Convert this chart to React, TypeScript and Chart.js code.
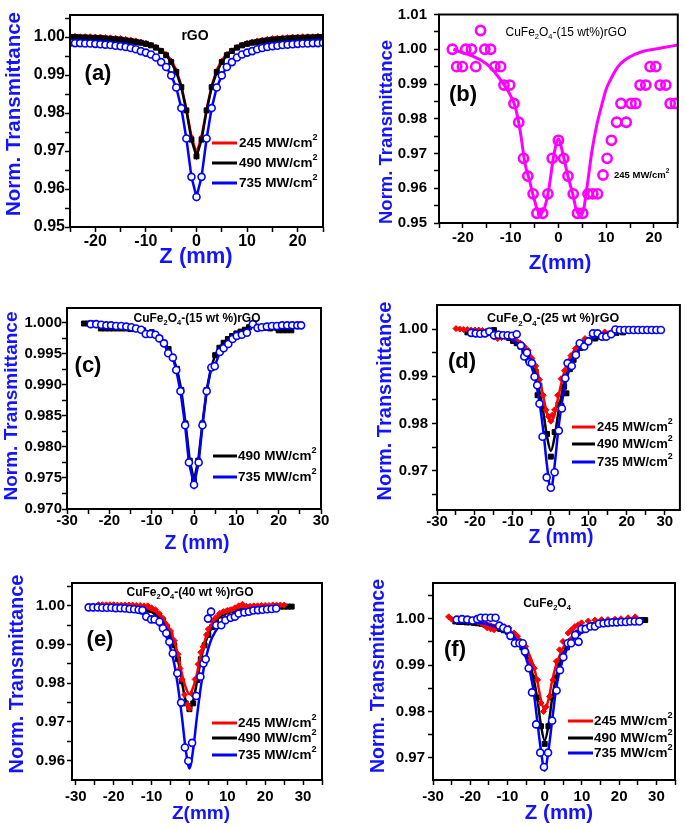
import React, { useEffect, useRef } from 'react';
import { Chart, registerables } from 'chart.js';
Chart.register(...registerables);

const FONT = '"Liberation Sans", Arial, Helvetica, sans-serif';
const RED = '#ff0000';
const BLACK = '#000000';
const BLUE = '#0000ff';
const MAGENTA = '#ff00ff';
const TITLE_BLUE = '#1414ff';

const Y_TITLE = 'Norm. Transmittance';
const L245 = '245 MW/cm';
const L490 = '490 MW/cm';
const L735 = '735 MW/cm';

// ---------- (a) rGO ----------
const A_Z = [-25,-24,-23,-22,-21,-20,-19,-18,-17,-16,-15,-14,-13,-12,-11,-10,-9,-8,-7,-6,-5,-4,-3,-2,-1,0,1,2,3,4,5,6,7,8,9,10,11,12,13,14,15,16,17,18,19,20,21,22,23,24,25];
const A_245 = [1.0004,1.0004,1.0003,1.0003,1.0003,1.0002,1.0002,1.0001,1.0000,0.9999,0.9998,0.9996,0.9994,0.9992,0.9989,0.9986,0.9981,0.9975,0.9966,0.9956,0.9939,0.9913,0.9872,0.9810,0.9738,0.9694,0.9738,0.9810,0.9872,0.9913,0.9939,0.9956,0.9966,0.9975,0.9981,0.9986,0.9989,0.9992,0.9994,0.9996,0.9998,0.9999,1.0000,1.0001,1.0002,1.0002,1.0003,1.0003,1.0003,1.0004,1.0004];
const A_490 = [1.0000,1.0000,0.9999,0.9999,0.9998,0.9998,0.9997,0.9996,0.9995,0.9994,0.9993,0.9991,0.9989,0.9987,0.9985,0.9982,0.9978,0.9972,0.9963,0.9952,0.9934,0.9908,0.9868,0.9807,0.9730,0.9686,0.9730,0.9807,0.9868,0.9908,0.9934,0.9952,0.9963,0.9972,0.9978,0.9982,0.9985,0.9987,0.9989,0.9991,0.9993,0.9994,0.9995,0.9996,0.9997,0.9998,0.9998,0.9999,0.9999,1.0000,1.0000];
const A_735 = [0.9985,0.9984,0.9984,0.9983,0.9983,0.9982,0.9981,0.9980,0.9979,0.9977,0.9976,0.9974,0.9971,0.9968,0.9963,0.9959,0.9954,0.9946,0.9934,0.9921,0.9899,0.9867,0.9813,0.9733,0.9632,0.9579,0.9632,0.9733,0.9813,0.9867,0.9899,0.9921,0.9934,0.9946,0.9954,0.9959,0.9963,0.9968,0.9971,0.9974,0.9976,0.9977,0.9979,0.9980,0.9981,0.9982,0.9983,0.9983,0.9984,0.9984,0.9985];
const A_X_MAJOR = [-20,-10,0,10,20];
const A_X_MINOR = [-25,-15,-5,5,15,25];
const A_Y_MAJOR = [0.95,0.96,0.97,0.98,0.99,1.00];
const A_Y_MINOR = [0.955,0.965,0.975,0.985,0.995,1.005];

// ---------- (b) CuFe2O4-(15 wt%)GO ----------
const B_PTS_Z = [-22.2,-21.3,-20.1,-19.4,-18.2,-17.3,-16.3,-15.4,-14.2,-13.3,-12.1,-11.4,-10.2,-9.3,-8.3,-7.3,-6.4,-5.3,-4.5,-3.3,-2.2,-1.3,0,1.1,2.0,3.1,4.0,5.1,6.2,7.2,8.2,10.2,11.1,12.2,13.1,14.2,15.2,16.2,17.1,18.3,19.2,20.4,21.3,22.5,23.4,24.5];
const B_PTS_T = [1.000,0.995,0.995,1.000,1.000,0.995,1.0054,1.000,1.000,0.995,0.995,0.9897,0.9897,0.9844,0.979,0.9686,0.9635,0.9584,0.9528,0.9528,0.9584,0.9686,0.9738,0.9686,0.9635,0.9584,0.9528,0.9528,0.9584,0.9584,0.9584,0.9686,0.9738,0.979,0.9844,0.979,0.9844,0.9844,0.9897,0.9897,0.995,0.995,0.9897,0.9897,0.9844,0.9844];
const B_FIT_Z = [-22,-20,-18,-16,-14,-13,-12,-11,-10,-9,-8,-7,-6,-5,-4,-3,-2,-1,0,1,2,3,4,5,6,7,8,9,10,11,12,13,14,16,18,20,22,25];
const B_FIT_T = [1.0000,0.9990,0.9980,0.9967,0.9945,0.9928,0.9910,0.9890,0.9866,0.9832,0.9765,0.9672,0.9620,0.9565,0.9528,0.9540,0.9598,0.9692,0.9742,0.9695,0.9635,0.9584,0.9530,0.9528,0.9605,0.9705,0.9780,0.9835,0.9885,0.9915,0.9940,0.9958,0.9970,0.9985,0.9995,1.0000,1.0005,1.0012];
const B_X_MAJOR = [-20,-10,0,10,20];
const B_X_MINOR = [-25,-15,-5,5,15,25];
const B_Y_MAJOR = [0.95,0.96,0.97,0.98,0.99,1.00,1.01];
const B_Y_MINOR = [0.955,0.965,0.975,0.985,0.995,1.005];

// ---------- (c) CuFe2O4-(15 wt %)rGO ----------
const C_490_Z = [-26,-25,-24,-22,-21,-20,-19,-18,-17,-16,-15,-14,-12,-10,-8,-7,-6,-5,-4,-3,-2,-1,0,1,2,3,4,5,6,7,8,9,10,11,12,13,14,15,16,17,18,20,21,22,23];
const C_490_T = [0.9999,0.9999,0.9999,0.9991,0.9991,0.9991,0.9991,0.9991,0.9991,0.9991,0.9990,0.9990,0.9988,0.9985,0.9975,0.9968,0.9958,0.9944,0.9926,0.9892,0.9838,0.9778,0.9746,0.9778,0.9838,0.9892,0.9927,0.9948,0.9960,0.9968,0.9974,0.9979,0.9983,0.9986,0.9989,0.9993,0.9999,0.9993,0.9992,0.9992,0.9991,0.9988,0.9988,0.9988,0.9988];
const C_735_Z = [-24.4,-23.1,-21.9,-20.7,-19.6,-18.4,-17.2,-16,-14.8,-13.7,-12.5,-11.4,-10.3,-9.1,-8.2,-7.1,-6.1,-5,-4.2,-3.2,-2.1,-1.2,0,1.1,2,3,4.1,4.9,6.1,7,8.1,9.1,10.1,11.3,12.5,13.9,15,16,17.2,18.4,19.6,20.8,22,23.2,24.4,25.3];
const C_735_T = [0.9998,0.9998,0.9997,0.9996,0.9996,0.9995,0.9995,0.9994,0.9993,0.9991,0.9989,0.9982,0.9982,0.9981,0.9975,0.9967,0.9951,0.9944,0.9924,0.9890,0.9835,0.9775,0.9739,0.9775,0.9835,0.9890,0.9928,0.9930,0.9953,0.9959,0.9966,0.9974,0.9979,0.9981,0.9984,0.9998,0.9992,0.9993,0.9994,0.9995,0.9995,0.9996,0.9996,0.9996,0.9996,0.9996];
const C_X_MAJOR = [-30,-20,-10,0,10,20,30];
const C_X_MINOR = [-25,-15,-5,5,15,25];
const C_Y_MAJOR = [0.970,0.975,0.980,0.985,0.990,0.995,1.000];
const C_Y_MINOR = [0.9725,0.9775,0.9825,0.9875,0.9925,0.9975];

// ---------- (d) CuFe2O4-(25 wt %)rGO ----------
const D_245_Z = [-25,-24,-23,-22,-21,-20,-19,-18,-17,-16,-15,-14,-13,-12,-11,-10,-9,-8,-7,-6,-5,-4,-3,-2,-1.3,-0.6,0,0.4,1,1.8,2.7,3.6,4.4,5.3,6.5,7.8,9,10.8,12.5,14.2,16.3];
const D_245_T = [1.0001,1.0000,0.9999,0.9999,0.9998,0.9998,0.9998,0.9997,0.9996,0.9995,0.9983,0.9980,0.9982,0.9983,0.9984,0.9980,0.9975,0.9970,0.9963,0.9955,0.9938,0.9922,0.9893,0.9860,0.9829,0.9815,0.9805,0.9818,0.9829,0.9860,0.9895,0.9912,0.9930,0.9944,0.9959,0.9970,0.9980,0.9987,0.9990,0.9994,0.9996];
const D_490_Z = [-22,-21,-20,-19,-18,-17,-16,-15,-14,-13,-12,-11,-10,-9,-8,-7,-6,-5,-4,-3.5,-3,-2,-1,0,1,2,2.8,3.5,4.1,5,6,6.8,7.8,9,10,11.7,13,14,15.6,17.3,19];
const D_490_T = [0.9993,0.9993,0.9992,0.9992,0.9992,0.9991,0.9992,0.9998,0.9990,0.9988,0.9986,0.9981,0.9975,0.9970,0.9963,0.9955,0.9935,0.9928,0.9910,0.9860,0.9880,0.9832,0.9778,0.9730,0.9782,0.9840,0.9837,0.9878,0.9864,0.9915,0.9935,0.9949,0.9960,0.9972,0.9977,0.9980,0.9984,0.9987,0.9990,0.9992,0.9993];
const D_735_Z = [-21,-19.8,-18.6,-17.4,-16.2,-15,-13.8,-12.6,-11.4,-10.2,-9,-7.9,-7,-6.3,-5.6,-5,-4.3,-3.6,-3,-2.2,-1.1,0,1,2.1,2.9,3.8,4.4,5.5,6.6,7.6,8.8,9.9,11.1,12.3,13.5,14.6,15.9,17,18.2,19.4,20.6,21.8,23,24.2,25.4,26.6,27.8,29];
const D_735_T = [0.9992,0.9991,0.9990,0.9991,0.9995,0.9987,0.9988,0.9987,0.9987,0.9986,0.9989,0.9965,0.9942,0.9950,0.9930,0.9928,0.9899,0.9881,0.9842,0.9772,0.9686,0.9664,0.9697,0.9785,0.9832,0.9896,0.9928,0.9922,0.9945,0.9970,0.9963,0.9974,0.9991,0.9991,0.9984,0.9984,0.9989,0.9999,0.9998,0.9998,0.9998,0.9998,0.9998,0.9998,0.9998,0.9998,0.9998,0.9998];
const D_245_FIT_Z = [-25,-20,-16,-12,-10,-8,-6,-5,-4,-3,-2,-1,0,1,2,3,4,5,6,8,10,12,14,17];
const D_245_FIT_T = [1.0000,0.9998,0.9994,0.9986,0.9980,0.9970,0.9953,0.9940,0.9921,0.9893,0.9858,0.9820,0.9803,0.9820,0.9858,0.9893,0.9921,0.9940,0.9953,0.9970,0.9980,0.9988,0.9992,0.9996];
const D_490_FIT_Z = [-22,-16,-12,-10,-8,-6,-5,-4,-3,-2,-1,0,1,2,3,4,5,6,8,10,12,15,19];
const D_490_FIT_T = [0.9993,0.9990,0.9983,0.9977,0.9966,0.9945,0.9928,0.9902,0.9868,0.9825,0.9772,0.9742,0.9772,0.9825,0.9868,0.9902,0.9928,0.9945,0.9966,0.9977,0.9983,0.9989,0.9993];
const D_735_FIT_Z = [-21,-16,-12,-10,-8,-6,-5,-4,-3,-2,-1,0,1,2,3,4,5,6,8,10,12,16,20,25,29];
const D_735_FIT_T = [0.9992,0.9990,0.9984,0.9977,0.9963,0.9938,0.9918,0.9888,0.9845,0.9785,0.9710,0.9658,0.9712,0.9790,0.9848,0.9890,0.9918,0.9938,0.9963,0.9977,0.9985,0.9992,0.9995,0.9997,0.9997];
const D_X_MAJOR = [-30,-20,-10,0,10,20,30];
const D_X_MINOR = [-25,-15,-5,5,15,25];
const D_Y_MAJOR = [0.97,0.98,0.99,1.00];
const D_Y_MINOR = [0.965,0.975,0.985,0.995];

// ---------- (e) CuFe2O4-(40 wt %)rGO ----------
const E_245_Z = [-24,-23,-22,-21,-20,-19,-18,-17,-16,-15,-14,-13,-12,-11,-10,-9,-8,-7,-6,-5,-4,-3,-2.5,-2,-1.3,-0.5,0,0.7,1.5,2.3,3,3.6,4.5,5,6,7,8,9,10,11,12,13,14,15,16,17,18,19,20,21,22,23,24,25];
const E_245_T = [1.0003,1.0003,1.0003,1.0003,1.0003,1.0002,1.0002,1.0002,1.0002,1.0002,1.0001,1.0001,1.0000,1.0000,0.9995,0.9990,0.9980,0.9968,0.9950,0.9935,0.9910,0.9875,0.9838,0.9810,0.9770,0.9745,0.9735,0.9772,0.9810,0.9849,0.9880,0.9894,0.9925,0.9940,0.9960,0.9970,0.9980,0.9985,0.9988,0.9990,0.9995,1.0000,1.0004,0.9999,0.9999,1.0000,1.0000,1.0001,1.0001,1.0001,1.0002,1.0002,1.0002,1.0002];
const E_490_Z = [-11,-10,-9,-8,-7,-6,-5,-4,-3,-2,-1,0,1,2,3,4,5,6,7,8,9,10,11,12,13,14,15,16,17,18,19,20,21,22,23,24,25,26,27];
const E_490_T = [0.9990,0.9989,0.9985,0.9975,0.9962,0.9945,0.9925,0.9898,0.9862,0.9805,0.9748,0.9733,0.9748,0.9808,0.9862,0.9898,0.9925,0.9945,0.9962,0.9975,0.9982,0.9985,0.9988,0.9990,0.9992,0.9993,0.9994,0.9995,0.9995,0.9996,0.9996,0.9997,0.9997,0.9997,0.9998,0.9998,0.9998,0.9998,0.9998];
const E_735_Z = [-26.6,-25.4,-24.2,-23,-21.8,-20.6,-19.4,-18.2,-17,-15.8,-14.6,-13.4,-12.4,-11.4,-10.1,-9.2,-7.9,-7,-6.1,-5.3,-4.4,-3.2,-2.2,-1.2,-0.3,0.7,1.8,2.9,3.7,4.3,4.9,5.7,7.1,8.4,9.5,10.9,12,13,14.5,15.7,16.9,18.1,19.3,20.5,21.7,22.9];
const E_735_T = [0.9996,0.9996,0.9996,0.9995,0.9995,0.9995,0.9994,0.9994,0.9993,0.9992,0.9991,0.9990,0.9989,0.9972,0.9965,0.9965,0.9959,0.9942,0.9929,0.9907,0.9877,0.9826,0.9750,0.9634,0.9599,0.9646,0.9767,0.9817,0.9851,0.9862,0.9967,0.9985,0.9950,0.9950,0.9963,0.9969,0.9972,0.9980,0.9983,0.9985,0.9988,0.9989,0.9990,0.9991,0.9992,0.9993];
const E_245_FIT_Z = [-24,-16,-12,-10,-8,-6,-5,-4,-3,-2,-1,0,1,2,3,4,5,6,8,10,12,16,20,25];
const E_245_FIT_T = [1.0002,0.9999,0.9995,0.9990,0.9978,0.9955,0.9935,0.9908,0.9872,0.9825,0.9790,0.9772,0.9790,0.9825,0.9872,0.9908,0.9935,0.9955,0.9978,0.9990,0.9995,0.9999,1.0001,1.0002];
const E_490_FIT_Z = [-11,-8,-6,-5,-4,-3,-2,-1,0,1,2,3,4,5,6,8,10,12,16,20,27];
const E_490_FIT_T = [0.9989,0.9972,0.9945,0.9925,0.9898,0.9860,0.9805,0.9755,0.9732,0.9755,0.9805,0.9860,0.9898,0.9925,0.9945,0.9972,0.9984,0.9990,0.9995,0.9997,0.9998];
const E_735_FIT_Z = [-26,-20,-16,-12,-10,-8,-6,-5,-4,-3,-2,-1,0,1,2,3,4,5,6,8,10,12,16,20,23];
const E_735_FIT_T = [0.9995,0.9992,0.9988,0.9978,0.9968,0.9950,0.9918,0.9890,0.9850,0.9790,0.9715,0.9630,0.9580,0.9630,0.9715,0.9790,0.9850,0.9890,0.9918,0.9950,0.9968,0.9978,0.9988,0.9992,0.9993];
const E_X_MAJOR = [-30,-20,-10,0,10,20,30];
const E_X_MINOR = [-25,-15,-5,5,15,25,35];
const E_Y_MAJOR = [0.96,0.97,0.98,0.99,1.00];
const E_Y_MINOR = [0.965,0.975,0.985,0.995,1.005];

// ---------- (f) CuFe2O4 ----------
const F_245_Z = [-25.8,-25,-24,-23,-22,-21,-20,-19,-18,-17,-16,-15.4,-14.5,-13.6,-12.2,-10.9,-9.6,-8.2,-7.3,-6.4,-5.1,-4.2,-3.5,-2.8,-1.9,-1,-0.3,0.4,1.3,2.2,3.1,4,4.9,6.3,7.2,8.1,9,9.9,11.7,13.5,15.3,17,18.9,20.5,22.4,24.3];
const F_245_T = [1.0004,0.9999,0.9999,0.9999,0.9998,0.9998,0.9998,0.9997,0.9993,0.9990,0.9985,0.9980,0.9978,0.9976,0.9983,0.9983,0.9980,0.9969,0.9962,0.9951,0.9940,0.9908,0.9900,0.9893,0.9868,0.9818,0.9800,0.9810,0.9832,0.9868,0.9908,0.9933,0.9951,0.9969,0.9976,0.9983,0.9987,0.9991,0.9995,0.9997,0.9998,0.9998,0.9999,1.0000,1.0002,1.0004];
const F_490_Z = [-24,-23,-22,-21,-20,-19,-18,-17,-16,-15,-14,-13,-12,-11,-10,-9,-8,-7,-6,-5,-4,-3,-2,-1,0,1,2,3,4,5,6,7,8,9,10,11,12,13,14,15,16,17,18,19,20,21,22,23,24,25,26,27];
const F_490_T = [0.9994,0.9993,0.9993,0.9992,0.9992,0.9991,0.9990,0.9989,0.9987,0.9985,0.9982,0.9980,0.9978,0.9975,0.9972,0.9966,0.9960,0.9950,0.9938,0.9925,0.9902,0.9872,0.9830,0.9768,0.9730,0.9768,0.9830,0.9872,0.9905,0.9925,0.9938,0.9952,0.9962,0.9970,0.9975,0.9980,0.9983,0.9986,0.9988,0.9990,0.9991,0.9992,0.9993,0.9994,0.9994,0.9995,0.9995,0.9996,0.9996,0.9996,0.9997,0.9997];
const F_735_Z = [-23.6,-22.2,-20.8,-19.4,-18.1,-17.2,-15.9,-14.5,-13.2,-12.2,-11.1,-10,-9.2,-8,-6.8,-5.9,-5.3,-4.3,-3.4,-2.3,-1.2,-0.2,0.9,2,3.2,4.1,5,6.2,7.1,8.2,9.1,9.9,11,12.3,13.5,14.6,15.8,17,18.2,19.4,20.6,21.8,23,24.2,25.4];
const F_735_T = [0.9998,0.9999,0.9998,0.9996,0.9999,1.0002,1.0002,1.0002,1.0002,0.9985,0.9980,0.9976,0.9963,0.9947,0.9947,0.9947,0.9929,0.9893,0.9841,0.9772,0.9711,0.9680,0.9711,0.9780,0.9845,0.9889,0.9917,0.9947,0.9947,0.9965,0.9950,0.9978,0.9978,0.9983,0.9983,0.9989,0.9990,0.9991,0.9992,0.9992,0.9993,0.9993,0.9994,0.9994,0.9994];
const F_245_FIT_Z = [-25,-20,-16,-12,-10,-8,-6,-5,-4,-3,-2,-1,0,1,2,3,4,5,6,8,10,12,16,20,24];
const F_245_FIT_T = [1.0000,0.9996,0.9990,0.9982,0.9976,0.9966,0.9950,0.9938,0.9920,0.9898,0.9866,0.9825,0.9803,0.9825,0.9866,0.9898,0.9920,0.9938,0.9950,0.9966,0.9976,0.9984,0.9992,0.9996,0.9998];
const F_490_FIT_Z = [-24,-16,-12,-10,-8,-6,-5,-4,-3,-2,-1,0,1,2,3,4,5,6,8,10,12,16,20,27];
const F_490_FIT_T = [0.9994,0.9988,0.9979,0.9972,0.9960,0.9938,0.9924,0.9902,0.9872,0.9828,0.9770,0.9737,0.9770,0.9828,0.9872,0.9904,0.9925,0.9939,0.9961,0.9974,0.9981,0.9989,0.9993,0.9997];
const F_735_FIT_Z = [-23,-16,-12,-10,-8,-6,-5,-4,-3,-2,-1,0,1,2,3,4,5,6,8,10,12,16,20,26];
const F_735_FIT_T = [0.9995,0.9989,0.9979,0.9970,0.9958,0.9935,0.9915,0.9888,0.9845,0.9780,0.9715,0.9672,0.9715,0.9780,0.9845,0.9888,0.9915,0.9935,0.9958,0.9970,0.9978,0.9987,0.9991,0.9995];
const F_X_MAJOR = [-30,-20,-10,0,10,20,30];
const F_X_MINOR = [-25,-15,-5,5,15,25,35];
const F_Y_MAJOR = [0.97,0.98,0.99,1.00];
const F_Y_MINOR = [0.975,0.985,0.995,1.005];

// ---------- helpers ----------
const COLORS: Record<string, string> = { red: RED, black: BLACK, blue: BLUE, magenta: MAGENTA };

function markerStyle(style: string, small = false) {
  switch (style) {
    case 'red':
      return { pointStyle: 'rectRot', pointRadius: small ? 2.2 : 3, pointBackgroundColor: RED, pointBorderColor: RED, pointBorderWidth: 1 };
    case 'black':
      return { pointStyle: 'rect', pointRadius: 3.5, pointBackgroundColor: BLACK, pointBorderColor: BLACK, pointBorderWidth: 1 };
    case 'blue':
      return { pointStyle: 'circle', pointRadius: 3.5, pointBackgroundColor: '#ffffff', pointBorderColor: BLUE, pointBorderWidth: 1.6 };
    default:
      return { pointStyle: 'circle', pointRadius: 4.6, pointBackgroundColor: 'rgba(255,255,255,0)', pointBorderColor: MAGENTA, pointBorderWidth: 2.6 };
  }
}

function toPts(zs: number[], ts: number[]) {
  return zs.map((x, i) => ({ x, y: ts[i] }));
}

function series(label: string, zs: number[], ts: number[], style: string, order: number, showLine: boolean, small = false) {
  return {
    label,
    data: toPts(zs, ts),
    showLine,
    borderColor: COLORS[style],
    backgroundColor: COLORS[style],
    borderWidth: 2.5,
    order,
    pointHoverRadius: 0,
    ...markerStyle(style, small),
  };
}

function fit(label: string, zs: number[], ts: number[], style: string, order: number, width = 2.5) {
  return {
    label,
    data: toPts(zs, ts),
    showLine: true,
    borderColor: COLORS[style],
    backgroundColor: COLORS[style],
    borderWidth: width,
    pointRadius: 0,
    pointHoverRadius: 0,
    cubicInterpolationMode: 'monotone',
    order,
  };
}

type Part = { t: string; size: number; weight?: string; dy?: number };

function drawRich(ctx: CanvasRenderingContext2D, parts: Part[], x: number, y: number, align: string) {
  let total = 0;
  const widths = parts.map((p) => {
    ctx.font = `${p.weight ?? 'bold'} ${p.size}px ${FONT}`;
    const w = ctx.measureText(p.t).width;
    total += w;
    return w;
  });
  let cx = align === 'center' ? x - total / 2 : x;
  ctx.textAlign = 'left';
  ctx.textBaseline = 'middle';
  parts.forEach((p, i) => {
    ctx.font = `${p.weight ?? 'bold'} ${p.size}px ${FONT}`;
    ctx.fillText(p.t, cx, y + (p.dy ?? 0));
    cx += widths[i];
  });
}

function chem(rest: string, size: number, weight: string): Part[] {
  return [
    { t: 'CuFe', size, weight },
    { t: '2', size: size * 0.62, weight, dy: size * 0.35 },
    { t: 'O', size, weight },
    { t: '4', size: size * 0.62, weight, dy: size * 0.35 },
    { t: rest, size, weight },
  ];
}

function legendParts(text: string, size: number): Part[] {
  return [
    { t: text, size },
    { t: '2', size: size * 0.68, dy: -size * 0.4 },
  ];
}

// ---------- panel configurations ----------
const PANELS: any[] = [
  {
    id: 'a',
    box: { x: 0, y: 0, w: 340, h: 272 },
    area: { l: 70, t: 15, r: 323, b: 227 },
    xMin: -25, xMax: 25, xMajor: A_X_MAJOR, xMinor: A_X_MINOR,
    yMin: 0.95, yMax: 1.0058, yMajor: A_Y_MAJOR, yMinor: A_Y_MINOR, yDec: 2,
    xPad: 1.5, yPad: 0, tickSize: 16,
    xTitle: { text: 'Z (mm)', x: 196, y: 257, size: 22 },
    yTitle: { x: 14, y: 114, size: 20.5 },
    notes: [
      { parts: [{ t: '(a)', size: 22 }], x: 98, y: 74, align: 'center' },
      { parts: [{ t: 'rGO', size: 14 }], x: 195, y: 36, align: 'center' },
    ],
    legendSize: 13.5,
    legend: [
      { kind: 'line', color: RED, x1: 212, x2: 237, y: 143, tx: 239, text: L245 },
      { kind: 'line', color: BLACK, x1: 212, x2: 237, y: 163, tx: 239, text: L490 },
      { kind: 'line', color: BLUE, x1: 212, x2: 237, y: 183, tx: 239, text: L735 },
    ],
    datasets: [
      series(L245, A_Z, A_245, 'red', 3, true, true),
      series(L490, A_Z, A_490, 'black', 2, true),
      series(L735, A_Z, A_735, 'blue', 1, true),
    ],
  },
  {
    id: 'b',
    box: { x: 340, y: 0, w: 345, h: 280 },
    area: { l: 439, t: 8, r: 680, b: 223 },
    xMin: -25, xMax: 25, xMajor: B_X_MAJOR, xMinor: B_X_MINOR,
    yMin: 0.95, yMax: 1.01, yMajor: B_Y_MAJOR, yMinor: B_Y_MINOR, yDec: 2,
    xPad: 2, yPad: 7, tickSize: 15,
    xTitle: { text: 'Z(mm)', x: 560, y: 263, size: 20.5 },
    yTitle: { x: 387, y: 132, size: 18.5 },
    notes: [
      { parts: [{ t: '(b)', size: 22 }], x: 463, y: 95, align: 'center' },
      { parts: chem('-(15 wt%)rGO', 12, 'normal'), x: 566, y: 33, align: 'center' },
    ],
    legendSize: 9.5,
    legend: [{ kind: 'circle', color: MAGENTA, x1: 603, y: 175, tx: 614, text: L245 }],
    datasets: [
      series(L245, B_PTS_Z, B_PTS_T, 'magenta', 1, false),
      fit('fit', B_FIT_Z, B_FIT_T, 'magenta', 2, 3),
    ],
  },
  {
    id: 'c',
    box: { x: 0, y: 275, w: 340, h: 280 },
    area: { l: 67, t: 308, r: 321, b: 509 },
    xMin: -30, xMax: 30, xMajor: C_X_MAJOR, xMinor: C_X_MINOR,
    yMin: 0.970, yMax: 1.0024, yMajor: C_Y_MAJOR, yMinor: C_Y_MINOR, yDec: 3,
    xPad: -1, yPad: 0, tickSize: 15,
    xTitle: { text: 'Z (mm)', x: 197, y: 544, size: 19.5 },
    yTitle: { x: 12, y: 406, size: 19 },
    notes: [
      { parts: [{ t: '(c)', size: 22 }], x: 88, y: 366, align: 'center' },
      { parts: chem('-(15 wt %)rGO', 12, 'bold'), x: 197, y: 319, align: 'center' },
    ],
    legendSize: 13.5,
    legend: [
      { kind: 'line', color: BLACK, x1: 213, x2: 237, y: 456, tx: 238, text: L490 },
      { kind: 'line', color: BLUE, x1: 213, x2: 237, y: 477, tx: 238, text: L735 },
    ],
    datasets: [
      series(L490, C_490_Z, C_490_T, 'black', 2, true),
      series(L735, C_735_Z, C_735_T, 'blue', 1, true),
    ],
  },
  {
    id: 'd',
    box: { x: 340, y: 275, w: 345, h: 280 },
    area: { l: 437, t: 305, r: 683, b: 510 },
    xMin: -30, xMax: 34, xMajor: D_X_MAJOR, xMinor: D_X_MINOR,
    yMin: 0.9617, yMax: 1.0051, yMajor: D_Y_MAJOR, yMinor: D_Y_MINOR, yDec: 2,
    xPad: -1, yPad: 4, tickSize: 15,
    xTitle: { text: 'Z (mm)', x: 561, y: 538, size: 19.5 },
    yTitle: { x: 385, y: 401, size: 20 },
    notes: [
      { parts: [{ t: '(d)', size: 22 }], x: 462, y: 362, align: 'center' },
      { parts: chem('-(25 wt %)rGO', 12.5, 'bold'), x: 553, y: 319, align: 'center' },
    ],
    legendSize: 13,
    legend: [
      { kind: 'line', color: RED, x1: 572, x2: 595, y: 427, tx: 597, text: L245 },
      { kind: 'line', color: BLACK, x1: 572, x2: 595, y: 444, tx: 597, text: L490 },
      { kind: 'line', color: BLUE, x1: 572, x2: 595, y: 462, tx: 597, text: L735 },
    ],
    datasets: [
      series(L490, D_490_Z, D_490_T, 'black', 7, false),
      fit('fit 490', D_490_FIT_Z, D_490_FIT_T, 'black', 6),
      series(L245, D_245_Z, D_245_T, 'red', 5, false),
      fit('fit 245', D_245_FIT_Z, D_245_FIT_T, 'red', 4),
      fit('fit 735', D_735_FIT_Z, D_735_FIT_T, 'blue', 3),
      series(L735, D_735_Z, D_735_T, 'blue', 2, false),
    ],
  },
  {
    id: 'e',
    box: { x: 0, y: 555, w: 340, h: 273 },
    area: { l: 72, t: 583, r: 322, b: 780 },
    xMin: -31, xMax: 35, xMajor: E_X_MAJOR, xMinor: E_X_MINOR,
    yMin: 0.955, yMax: 1.0059, yMajor: E_Y_MAJOR, yMinor: E_Y_MINOR, yDec: 2,
    xPad: 4, yPad: 2, tickSize: 15,
    xTitle: { text: 'Z(mm)', x: 201, y: 814, size: 19 },
    yTitle: { x: 17, y: 674, size: 20 },
    notes: [
      { parts: [{ t: '(e)', size: 22 }], x: 100, y: 640, align: 'center' },
      { parts: chem('-(40 wt %)rGO', 12, 'bold'), x: 190, y: 593, align: 'center' },
    ],
    legendSize: 13.5,
    legend: [
      { kind: 'line', color: RED, x1: 212, x2: 237, y: 723, tx: 238, text: L245 },
      { kind: 'line', color: BLACK, x1: 212, x2: 237, y: 738, tx: 238, text: L490 },
      { kind: 'line', color: BLUE, x1: 212, x2: 237, y: 755, tx: 238, text: L735 },
    ],
    datasets: [
      series(L490, E_490_Z, E_490_T, 'black', 7, false),
      fit('fit 490', E_490_FIT_Z, E_490_FIT_T, 'black', 6),
      series(L245, E_245_Z, E_245_T, 'red', 5, false),
      fit('fit 245', E_245_FIT_Z, E_245_FIT_T, 'red', 4),
      fit('fit 735', E_735_FIT_Z, E_735_FIT_T, 'blue', 3),
      series(L735, E_735_Z, E_735_T, 'blue', 2, false),
    ],
  },
  {
    id: 'f',
    box: { x: 340, y: 555, w: 345, h: 273 },
    area: { l: 433, t: 583, r: 675, b: 780 },
    xMin: -30, xMax: 35, xMajor: F_X_MAJOR, xMinor: F_X_MINOR,
    yMin: 0.9652, yMax: 1.0077, yMajor: F_Y_MAJOR, yMinor: F_Y_MINOR, yDec: 2,
    xPad: 4, yPad: 3, tickSize: 15,
    xTitle: { text: 'Z (mm)', x: 559, y: 813, size: 20.5 },
    yTitle: { x: 379, y: 676, size: 19.5 },
    notes: [
      { parts: [{ t: '(f)', size: 22 }], x: 455, y: 650, align: 'center' },
      { parts: chem('', 12, 'bold'), x: 547, y: 604, align: 'center' },
    ],
    legendSize: 13.5,
    legend: [
      { kind: 'line', color: RED, x1: 568, x2: 593, y: 721, tx: 594, text: L245 },
      { kind: 'line', color: BLACK, x1: 568, x2: 593, y: 738, tx: 594, text: L490 },
      { kind: 'line', color: BLUE, x1: 568, x2: 593, y: 753, tx: 594, text: L735 },
    ],
    datasets: [
      series(L490, F_490_Z, F_490_T, 'black', 7, false),
      fit('fit 490', F_490_FIT_Z, F_490_FIT_T, 'black', 6),
      series(L245, F_245_Z, F_245_T, 'red', 5, false),
      fit('fit 245', F_245_FIT_Z, F_245_FIT_T, 'red', 4),
      fit('fit 735', F_735_FIT_Z, F_735_FIT_T, 'blue', 3),
      series(L735, F_735_Z, F_735_T, 'blue', 2, false),
    ],
  },
];

function axisOpts(p: any, axis: 'x' | 'y') {
  const isX = axis === 'x';
  const majors: number[] = isX ? p.xMajor : p.yMajor;
  const minors: number[] = isX ? p.xMinor : p.yMinor;
  const all = [...majors, ...minors].sort((a, b) => a - b);
  return {
    type: 'linear',
    position: isX ? 'bottom' : 'left',
    min: isX ? p.xMin : p.yMin,
    max: isX ? p.xMax : p.yMax,
    afterBuildTicks: (s: any) => {
      s.ticks = all.map((v) => ({ value: v }));
    },
    afterFit: (s: any) => {
      if (isX) s.height = p.box.y + p.box.h - p.area.b;
      else s.width = p.area.l - p.box.x;
    },
    ticks: {
      autoSkip: false,
      maxRotation: 0,
      minRotation: 0,
      padding: isX ? p.xPad : p.yPad,
      color: '#000',
      font: { family: FONT, size: p.tickSize, weight: 'bold', lineHeight: 1 },
      callback: (v: any) => {
        const n = Number(v);
        if (!majors.some((m) => Math.abs(m - n) < 1e-7)) return '';
        return isX ? String(Math.round(n)) : n.toFixed(p.yDec);
      },
    },
    grid: { drawOnChartArea: false, drawTicks: true, tickLength: 5, tickWidth: 1.5, tickColor: '#000', color: '#000' },
    border: { display: false },
    title: { display: false },
  };
}

function overlayPlugin(p: any) {
  return {
    id: 'overlay_' + p.id,
    afterDraw(chart: any) {
      const ctx: CanvasRenderingContext2D = chart.ctx;
      const a = chart.chartArea;
      const ox = p.box.x;
      const oy = p.box.y;
      ctx.save();
      ctx.strokeStyle = '#000';
      ctx.lineWidth = 2;
      ctx.strokeRect(a.left, a.top, a.right - a.left, a.bottom - a.top);
      ctx.fillStyle = TITLE_BLUE;
      ctx.textAlign = 'center';
      ctx.textBaseline = 'middle';
      ctx.font = `bold ${p.yTitle.size}px ${FONT}`;
      ctx.save();
      ctx.translate(p.yTitle.x - ox, p.yTitle.y - oy);
      ctx.rotate(-Math.PI / 2);
      ctx.fillText(Y_TITLE, 0, 0);
      ctx.restore();
      ctx.font = `bold ${p.xTitle.size}px ${FONT}`;
      ctx.fillText(p.xTitle.text, p.xTitle.x - ox, p.xTitle.y - oy);
      ctx.fillStyle = '#000';
      for (const n of p.notes) drawRich(ctx, n.parts, n.x - ox, n.y - oy, n.align);
      for (const l of p.legend) {
        if (l.kind === 'line') {
          ctx.strokeStyle = l.color;
          ctx.lineWidth = 3;
          ctx.beginPath();
          ctx.moveTo(l.x1 - ox, l.y - oy);
          ctx.lineTo(l.x2 - ox, l.y - oy);
          ctx.stroke();
        } else {
          ctx.strokeStyle = l.color;
          ctx.lineWidth = 2.6;
          ctx.beginPath();
          ctx.arc(l.x1 - ox, l.y - oy, 4.6, 0, Math.PI * 2);
          ctx.stroke();
        }
        ctx.fillStyle = '#000';
        drawRich(ctx, legendParts(l.text, p.legendSize), l.tx - ox, l.y - oy, 'left');
      }
      ctx.restore();
    },
  };
}

function Panel({ p }: { p: any }) {
  const ref = useRef<HTMLCanvasElement | null>(null);
  useEffect(() => {
    if (!ref.current) return;
    const chart = new Chart(ref.current, {
      type: 'scatter',
      data: { datasets: p.datasets },
      options: {
        responsive: false,
        animation: false,
        events: [],
        layout: {
          padding: {
            left: 0,
            top: p.area.t - p.box.y,
            right: p.box.x + p.box.w - p.area.r,
            bottom: 0,
          },
        },
        plugins: { legend: { display: false }, tooltip: { enabled: false }, title: { display: false } },
        scales: { x: axisOpts(p, 'x'), y: axisOpts(p, 'y') },
      } as any,
      plugins: [overlayPlugin(p)],
    } as any);
    return () => chart.destroy();
  }, [p]);
  return (
    <canvas
      ref={ref}
      width={p.box.w}
      height={p.box.h}
      style={{ position: 'absolute', left: p.box.x, top: p.box.y, width: p.box.w, height: p.box.h }}
    />
  );
}

export default function App() {
  return (
    <div style={{ position: 'fixed', left: 0, top: 0, width: 685, height: 828, background: '#ffffff', overflow: 'hidden' }}>
      {PANELS.map((p) => (
        <Panel key={p.id} p={p} />
      ))}
    </div>
  );
}
